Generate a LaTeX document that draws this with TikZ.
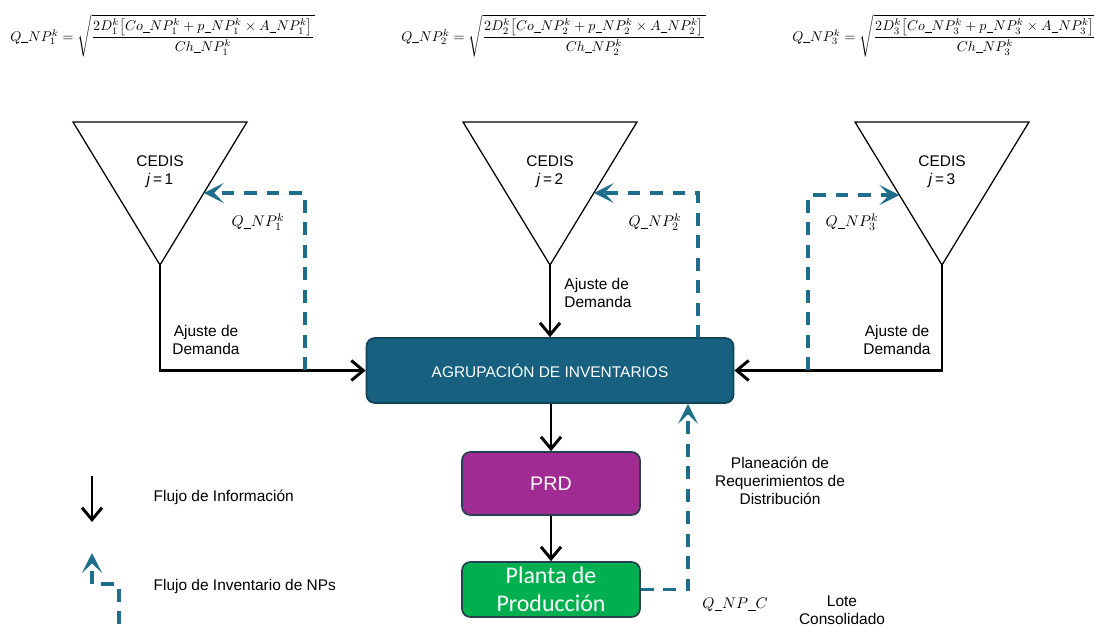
\documentclass[tikz,border=0pt]{standalone}
\usepackage[no-math]{fontspec}
\setmainfont{Liberation Sans}
\newfontfamily\calibri{Carlito}
\usepackage{amsmath}
\usetikzlibrary{arrows.meta}
\definecolor{agrblue}{HTML}{17607F}
\definecolor{agredge}{HTML}{12435A}
\definecolor{invteal}{HTML}{1E6D8C}
\definecolor{prdpurple}{HTML}{A02B93}
\definecolor{plantgreen}{HTML}{00B050}
\definecolor{boxedge}{HTML}{26404E}
\newcommand{\usc}{\mathord{\rule[-1.2pt]{0.48em}{0.45pt}}}

\begin{document}
\begin{tikzpicture}[x=0.025cm,y=-0.025cm,
    lbl/.style={font=\fontsize{11}{13}\selectfont,align=center,inner sep=1pt},
    fml/.style={font=\fontsize{9.8}{12}\selectfont,anchor=west,inner sep=0pt},
    tri/.style={draw,line width=0.9pt},
    box/.style={draw=boxedge,line width=1.2pt,rounded corners=6pt,text=white,align=center,inner sep=0pt},
    info/.style={line width=2.1pt,-{Straight Barb[length=3mm,width=5mm]}},
    invflow/.style={draw=invteal,line width=2.6pt,dash pattern=on 9pt off 7pt,
      -{Stealth[length=5mm,width=5mm,inset=2.4mm]},invteal}]
  \useasboundingbox (0,0) rectangle (1094,626);

  % formulas
  \node[fml] (f1) at (10,36) {$Q\usc NP_1^k=\sqrt{\dfrac{2D_1^k\bigl[Co\usc NP_1^k+p\usc NP_1^k\times A\usc NP_1^k\bigr]}{Ch\usc NP_1^k}}$};
  \node[fml] (f2) at (401,36) {$Q\usc NP_2^k=\sqrt{\dfrac{2D_2^k\bigl[Co\usc NP_2^k+p\usc NP_2^k\times A\usc NP_2^k\bigr]}{Ch\usc NP_2^k}}$};
  \node[fml] (f3) at (792,36) {$Q\usc NP_3^k=\sqrt{\dfrac{2D_3^k\bigl[Co\usc NP_3^k+p\usc NP_3^k\times A\usc NP_3^k\bigr]}{Ch\usc NP_3^k}}$};

  % CEDIS
  \foreach \x/\j in {160/1,550/2,942/3}{
    \draw[tri] (\x-87,122) coordinate (tl\j) -- (\x+87,122) coordinate (tr\j)
      -- (\x,265) coordinate (ta\j) -- cycle;
    \node[lbl] (cedis\j) at (\x,172) {CEDIS\\\textit{j}\,=\,\j};
  }

  % boxes
  \node[box,fill=agrblue,draw=agredge,minimum width=9.175cm,minimum height=1.625cm,
    font=\fontsize{11}{13}\selectfont] (agr) at (550,370.5) {AGRUPACIÓN DE INVENTARIOS};
  \node[box,fill=prdpurple,minimum width=4.45cm,minimum height=1.575cm,
    font=\fontsize{14}{16}\selectfont] (prd) at (551,483.5) {PRD};
  \node[box,fill=plantgreen,minimum width=4.45cm,minimum height=1.375cm,
    font=\calibri\fontsize{17}{20}\selectfont] (planta) at (551,589.5) {Planta de\\Producción};

  % information
  \draw[info] (ta1) |- (agr.west);
  \draw[info] (ta2) -- (ta2 |- agr.north);
  \draw[info] (ta3) |- (agr.east);
  \draw[info] (agr.south -| prd.north) -- (prd.north);
  \draw[info] (prd.south) -- (planta.north);
  \node[lbl] (aj1) at (206,340) {Ajuste de\\Demanda};
  \node[lbl,align=left] (aj2) at (598,293) {Ajuste de\\Demanda};
  \node[lbl] (aj3) at (897,340) {Ajuste de\\Demanda};

  % inventory
  \coordinate (s1) at (305,370);
  \coordinate (s2) at (698,338);
  \coordinate (s3) at (808,370);
  \coordinate (e1) at (intersection of tr1--ta1 and 0,193--1000,193);
  \coordinate (e2) at (intersection of tr2--ta2 and 0,193--1000,193);
  \coordinate (e3) at (intersection of tl3--ta3 and 0,195--1000,195);
  \coordinate (pr) at (688,0);
  \draw[invflow] (s1) |- (e1);
  \draw[invflow] (s2) |- (e2);
  \draw[invflow] (s3) |- (e3);
  \draw[invflow] (planta.east) -| (agr.south -| pr);
  \node[lbl] (q1) at (258,222) {$Q\usc NP_1^k$};
  \node[lbl] (q2) at (655,222) {$Q\usc NP_2^k$};
  \node[lbl] (q3) at (852,222) {$Q\usc NP_3^k$};
  \node[lbl] (qc) at (735,605) {$Q\usc NP\usc C$};
  \node[lbl] (prq) at (780,481) {Planeación de\\Requerimientos de\\Distribución};
  \node[lbl] (lote) at (842,610) {Lote\\Consolidado};

  % legend
  \coordinate (li1) at (92,476);
  \coordinate (li2) at (92,522);
  \draw[info] (li1) -- (li2);
  \node[lbl,anchor=west] (leg1) at (152,497) {Flujo de Información};
  \coordinate (lv1) at (119,624);
  \coordinate (lv2) at (92,584);
  \coordinate (lv3) at (92,553);
  \draw[invflow] (lv1) |- (lv2) -- (lv3);
  \node[lbl,anchor=west] (leg2) at (152,586) {Flujo de Inventario de NPs};
\end{tikzpicture}
\end{document}
